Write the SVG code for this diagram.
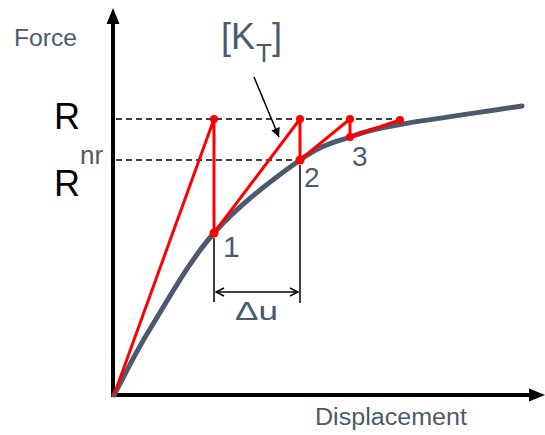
<svg xmlns="http://www.w3.org/2000/svg" width="545" height="435" viewBox="0 0 545 435">
<defs>
<style>
.lbl{font-family:"Liberation Sans",Arial,sans-serif;fill:#4b5a6f}
.blk{font-family:"Liberation Sans",Arial,sans-serif;fill:#000}
.axis{stroke:#000;stroke-width:4;fill:none}
.dash{stroke:#000;stroke-width:1.5;stroke-dasharray:6 4;fill:none}
.thin{stroke:#000;stroke-width:1.5;fill:none}
.red{stroke:#ff0000;stroke-width:3;fill:none;stroke-linejoin:round}
.curve{stroke:#4b5a6f;stroke-width:5;fill:none;stroke-linecap:round}
.dot{fill:#ff0000}
</style>
<marker id="open" viewBox="0 0 10 10" refX="9" refY="5" markerWidth="10" markerHeight="10" markerUnits="userSpaceOnUse" orient="auto-start-reverse">
<path d="M1,1 L9,5 L1,9" fill="none" stroke="#000" stroke-width="1.5"/>
</marker>
<marker id="solid" viewBox="0 0 10 10" refX="10" refY="5" markerWidth="9" markerHeight="9" markerUnits="userSpaceOnUse" orient="auto">
<path d="M0,0 L10,5 L0,10 Z" fill="#000"/>
</marker>
</defs>
<rect width="545" height="435" fill="#fff"/>
<g id="axes">
<line class="axis" x1="113" y1="397" x2="113" y2="22"/>
<path d="M113,8 L106.5,24 L119.5,24 Z" fill="#000"/>
<line class="axis" x1="111" y1="395" x2="531" y2="395"/>
<path d="M545,395 L529,388.5 L529,401.5 Z" fill="#000"/>
</g>
<g id="connectors">
<line class="dash" x1="116" y1="119" x2="400" y2="119"/>
<line class="dash" x1="116" y1="160" x2="300" y2="160"/>
<path class="curve" d="M114,395 C126,373 133.3,356 150,329 C166.7,302 189,261.2 214,233 C239,204.8 277.3,176 300,160 C322.7,144 333.3,142.9 350,137 C366.7,131.1 371.3,129.7 400,124.5 C428.7,119.3 481.3,112.2 522,106"/>
<polyline class="red" points="114,395 214,119 214,233 300,119 300,160 350,119 350,137 400,120"/>
<line class="thin" x1="214" y1="238" x2="214" y2="302"/>
<line class="thin" x1="300" y1="165" x2="300" y2="303"/>
<line class="thin" x1="216" y1="292" x2="298" y2="292" marker-start="url(#open)" marker-end="url(#open)"/>
<line class="thin" x1="254" y1="77" x2="279" y2="137" marker-end="url(#solid)"/>
</g>
<g id="points">
<circle class="dot" cx="214" cy="119" r="4"/>
<circle class="dot" cx="214" cy="233" r="4.5"/>
<circle class="dot" cx="300" cy="119" r="4"/>
<circle class="dot" cx="300" cy="160" r="4.5"/>
<circle class="dot" cx="350" cy="119" r="4"/>
<circle class="dot" cx="350" cy="137" r="4"/>
<circle class="dot" cx="400" cy="120" r="4"/>
</g>
<g id="labels">
<text class="lbl" x="14" y="46" font-size="23" textLength="63" lengthAdjust="spacingAndGlyphs">Force</text>
<text class="lbl" x="315" y="425" font-size="23" textLength="152" lengthAdjust="spacingAndGlyphs">Displacement</text>
<text class="blk" x="54" y="129" font-size="36">R</text>
<text class="lbl" x="80" y="164" font-size="26">nr</text>
<text class="blk" x="54" y="196" font-size="36">R</text>
<text class="lbl" x="221" y="49" font-size="36">[K</text>
<text class="lbl" x="256" y="62" font-size="26">T</text>
<text class="lbl" x="272" y="49" font-size="36">]</text>
<text class="lbl" x="235" y="320" font-size="26" textLength="43" lengthAdjust="spacingAndGlyphs">Δu</text>
<text class="lbl" x="223" y="257" font-size="30">1</text>
<text class="lbl" x="304" y="187" font-size="28">2</text>
<text class="lbl" x="352" y="166" font-size="28">3</text>
</g>
</svg>
